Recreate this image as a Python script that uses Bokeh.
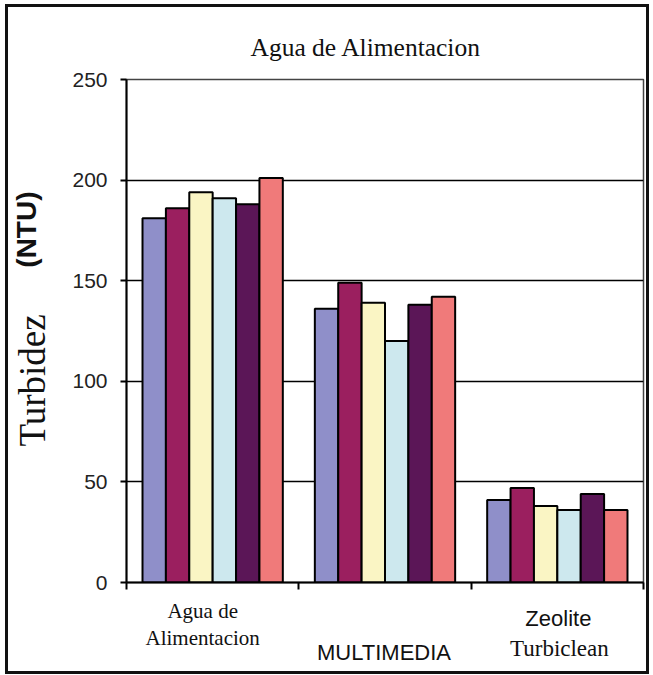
from bokeh.plotting import figure
from bokeh.models import ColumnDataSource, Range1d, FixedTicker, LinearAxis
from bokeh.transform import dodge
from bokeh.embed import file_html
from bokeh.resources import INLINE

# ---- data ----
categories = ["Agua de Alimentacion", "MULTIMEDIA", "Zeolite Turbiclean"]
serie_1 = [181, 136, 41]
serie_2 = [186, 149, 47]
serie_3 = [194, 139, 38]
serie_4 = [191, 120, 36]
serie_5 = [188, 138, 44]
serie_6 = [201, 142, 36]
y_ticks = [0, 50, 100, 150, 200, 250]
title_text = "Agua de Alimentacion"
y_label_main = "Turbidez"
y_label_unit = "(NTU)"

series = [serie_1, serie_2, serie_3, serie_4, serie_5, serie_6]
colors = ["#8F8FC9", "#9B1F5F", "#FAF5C4", "#CDE8EE", "#5B1657", "#F07A7A"]

src = ColumnDataSource(data=dict(
    x=[i + 0.5 for i in range(len(categories))],
    **{f"s{k}": v for k, v in enumerate(series)}
))

W, H = 644, 670
p = figure(width=W, height=H, output_backend="svg", toolbar_location=None,
           x_range=Range1d(0, len(categories)), y_range=Range1d(0, 250),
           min_border_left=100, min_border_right=9, min_border_top=72,
           min_border_bottom=95)
p.styles = {"border": "3px solid #111", "box-sizing": "border-box",
            "margin-left": "5px", "margin-top": "4px"}
p.background_fill_color = "white"
p.border_fill_color = "white"
p.outline_line_color = "#444"
p.outline_line_width = 1.5

bw = 0.1357
for k in range(len(series)):
    p.vbar(x=dodge("x", (k - 2.5) * bw, range=p.x_range), top=f"s{k}", width=bw,
           source=src, fill_color=colors[k], line_color="black", line_width=2)

# title
p.title.text = title_text
p.title.align = "left"
p.title.offset = 124
p.title.standoff = 36
p.title.text_font = "Liberation Serif"
p.title.text_font_size = "25.5px"
p.title.text_font_style = "normal"
p.title.text_color = "#111"

# grid
p.xgrid.grid_line_color = None
p.ygrid.grid_line_color = "black"
p.ygrid.grid_line_width = 1.6
p.ygrid.ticker = FixedTicker(ticks=y_ticks)

# y axis
ya = p.yaxis[0]
ya.ticker = FixedTicker(ticks=y_ticks)
ya.axis_line_color = "black"
ya.axis_line_width = 2
ya.major_tick_line_color = "black"
ya.major_tick_line_width = 2
ya.major_tick_out = 6
ya.major_tick_in = 0
ya.minor_tick_line_color = None
ya.major_label_standoff = 13
ya.major_label_text_font = "Liberation Sans"
ya.major_label_text_font_size = "21px"
ya.major_label_text_color = "#222"

# x axis (group boundaries)
xa = p.xaxis[0]
xa.ticker = FixedTicker(ticks=list(range(len(categories) + 1)))
xa.axis_line_color = "black"
xa.axis_line_width = 2
xa.major_tick_line_color = "black"
xa.major_tick_line_width = 2
xa.major_tick_out = 7
xa.major_tick_in = 0
xa.minor_tick_line_color = None
xa.major_label_text_font_size = "1px"
xa.major_label_standoff = 0
xa.major_label_overrides = {i: "" for i in range(len(categories) + 1)}


def label_axis(side, ticks, labels, font, size, standoff, style="normal",
               orientation="horizontal", line_height=1.2):
    ax = LinearAxis(ticker=FixedTicker(ticks=ticks),
                    major_label_overrides=dict(zip(ticks, labels)),
                    axis_line_color=None, major_tick_line_color=None,
                    minor_tick_line_color=None, major_tick_out=0, major_tick_in=0,
                    major_label_standoff=standoff,
                    major_label_orientation=orientation,
                    major_label_text_font=font, major_label_text_font_size=size,
                    major_label_text_font_style=style,
                    major_label_text_color="#111",
                    major_label_text_line_height=line_height)
    p.add_layout(ax, side)
    return ax


# y-axis title pieces (vertical)
label_axis("left", [175.4], [y_label_unit], "Liberation Sans", "28px", 27,
           style="bold", orientation="vertical")
label_axis("left", [100.4], [y_label_main], "Liberation Serif", "37px", -45,
           orientation="vertical")

# category labels
label_axis("below", [0.442], ["Agua de\nAlimentacion"],
           "Liberation Serif", "21px", 9, line_height=1.15)
label_axis("below", [1.494, 2.506], ["\n" + categories[1], "Zeolite"],
           "Liberation Sans", "22px", -48, line_height=1.38)
label_axis("below", [2.512], ["Turbiclean"],
           "Liberation Serif", "23px", -33)

open("out.html", "w").write(file_html(p, INLINE))
